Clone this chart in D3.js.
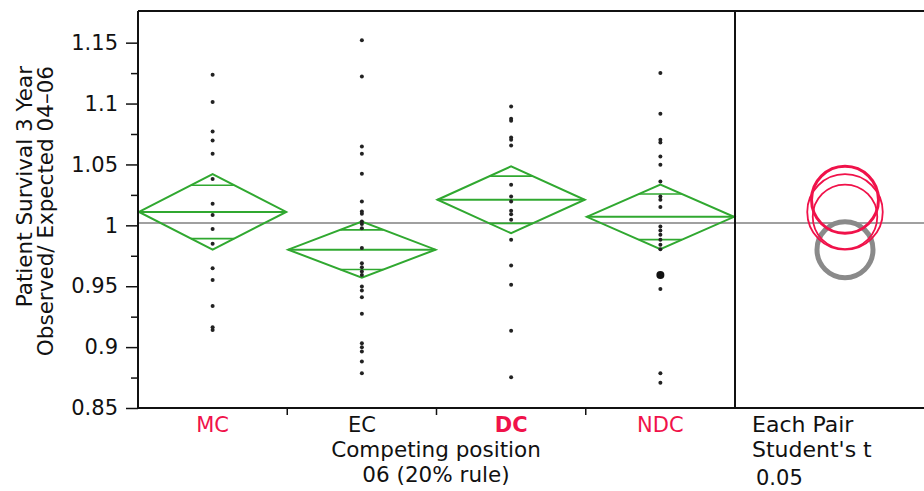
<!DOCTYPE html>
<html>
<head>
<meta charset="utf-8">
<script src="https://cdn.jsdelivr.net/npm/d3@7"></script>
<style>
  body { margin: 0; background: #fff; }
  text { font-family: "DejaVu Sans", sans-serif; }
</style>
</head>
<body>
<svg width="924" height="491"></svg>
<script>
// groups and summary values
var groups = ["MC", "EC", "DC", "NDC"];
var means = [1.011, 0.980, 1.021, 1.007];
var ciHalf = [0.031, 0.023, 0.0275, 0.0265];
var grandMean = 1.002;

// raw points per group
var mcPoints = [1.1237, 1.1013, 1.0771, 1.0697, 1.0588, 1.0380, 1.0177, 1.0084, 0.9969, 0.9848, 0.9648, 0.9552, 0.9338, 0.9163, 0.9140];
var ecPoints = [1.1519, 1.1223, 1.0648, 1.0588, 1.0423, 1.0196, 1.0113, 1.0095, 1.0031, 1.0010, 0.9977, 0.9813, 0.9689, 0.9656, 0.9620, 0.9593, 0.9497, 0.9464, 0.9410, 0.9273, 0.9032, 0.8999, 0.8963, 0.8881, 0.8785];
var dcPoints = [1.0976, 1.0875, 1.0859, 1.0722, 1.0703, 1.0656, 1.0333, 1.0237, 1.0196, 1.0119, 1.0092, 1.0045, 0.9881, 0.9670, 0.9513, 0.9135, 0.8752];
var ndcPoints = [1.1251, 1.0916, 1.0703, 1.0680, 1.0565, 1.0497, 1.0360, 1.0237, 1.0210, 1.0150, 0.9990, 0.9957, 0.9922, 0.9881, 0.9840, 0.9804, 0.9478, 0.8785, 0.8708];
var ndcLarge = [0.9593];

var yTicks = [0.85, 0.9, 0.95, 1, 1.05, 1.1, 1.15];
var yMinor = [0.875, 0.925, 0.975, 1.025, 1.075, 1.125];

var red = "#f0124a";
var green = "#30a830";
var labelColor = {MC: red, EC: "#111", DC: red, NDC: red};

var svg = d3.select("svg");

var plotLeft = 138, plotRight = 924, plotTop = 11, plotBottom = 408, divider = 735;

var x = d3.scaleBand()
    .domain(groups)
    .range([plotLeft, divider])
    .padding(0);

var y = d3.scaleLinear()
    .domain([0.85, 1.176])
    .range([plotBottom, plotTop]);

var allPoints = [mcPoints, ecPoints, dcPoints, ndcPoints];

// grand mean line
svg.append("line")
    .attr("x1", plotLeft).attr("x2", plotRight)
    .attr("y1", y(grandMean)).attr("y2", y(grandMean))
    .attr("stroke", "#808080")
    .attr("stroke-width", 1.5);

// diamonds
groups.forEach(function(g, i) {
    var x0 = x(g) + 1, x1 = x(g) + x.bandwidth() - 1, xc = (x0 + x1) / 2;
    var m = means[i], h = ciHalf[i];
    var pts = [[x0, y(m)], [xc, y(m + h)], [x1, y(m)], [xc, y(m - h)]];
    svg.append("polygon")
        .attr("points", pts.map(function(p) { return p.join(","); }).join(" "))
        .attr("fill", "none")
        .attr("stroke", green)
        .attr("stroke-width", 2);
    svg.append("line")
        .attr("x1", x0).attr("x2", x1)
        .attr("y1", y(m)).attr("y2", y(m))
        .attr("stroke", green).attr("stroke-width", 2);
    // overlap marks
    var d = h / Math.SQRT2;
    var frac = 1 - d / h;
    var half = (x1 - x0) / 2 * frac;
    [m + d, m - d].forEach(function(v) {
        svg.append("line")
            .attr("x1", xc - half).attr("x2", xc + half)
            .attr("y1", y(v)).attr("y2", y(v))
            .attr("stroke", green).attr("stroke-width", 1.7);
    });
});

// points
groups.forEach(function(g, i) {
    svg.selectAll(null)
        .data(allPoints[i])
        .enter()
        .append("circle")
        .attr("cx", x(g) + x.bandwidth() / 2)
        .attr("cy", function(d) { return y(d); })
        .attr("r", 2)
        .attr("fill", "#222");
});
svg.selectAll(null)
    .data(ndcLarge)
    .enter()
    .append("circle")
    .attr("cx", x("NDC") + x.bandwidth() / 2)
    .attr("cy", function(d) { return y(d); })
    .attr("r", 4)
    .attr("fill", "#111");

// comparison circles
var cx = 845;
svg.append("circle")
    .attr("cx", cx).attr("cy", y(means[1]))
    .attr("r", y(0) - y(ciHalf[1]))
    .attr("fill", "none")
    .attr("stroke", "#8a8a8a")
    .attr("stroke-width", 5);
[0, 3, 2].forEach(function(i) {
    svg.append("circle")
        .attr("cx", cx).attr("cy", y(means[i]))
        .attr("r", y(0) - y(ciHalf[i]))
        .attr("fill", "none")
        .attr("stroke", red)
        .attr("stroke-width", groups[i] == "DC" ? 3 : 1.8);
});

// frame
svg.append("line")
    .attr("x1", plotLeft).attr("x2", plotRight)
    .attr("y1", plotTop).attr("y2", plotTop)
    .attr("stroke", "#111").attr("stroke-width", 2);
svg.append("line")
    .attr("x1", divider).attr("x2", divider)
    .attr("y1", plotTop).attr("y2", plotBottom)
    .attr("stroke", "#111").attr("stroke-width", 2);

// y axis
var yAxis = d3.axisLeft(y)
    .tickValues(yTicks)
    .tickSize(12)
    .tickPadding(8)
    .tickFormat(function(d) { return String(+d.toFixed(2)); });

var gy = svg.append("g")
    .attr("transform", "translate(" + plotLeft + ",0)")
    .call(yAxis);
gy.select(".domain").remove();
gy.selectAll(".tick line").attr("stroke", "#111").attr("stroke-width", 1.5);
gy.selectAll(".tick text").attr("font-size", 21).attr("fill", "#111")
    .attr("font-family", "DejaVu Sans");

svg.append("g")
    .attr("transform", "translate(" + plotLeft + ",0)")
    .call(d3.axisLeft(y).tickValues(yMinor).tickSize(7).tickFormat(""))
    .call(function(g) { g.select(".domain").remove(); })
    .selectAll(".tick line").attr("stroke", "#111").attr("stroke-width", 1.5);

svg.append("line")
    .attr("x1", plotLeft).attr("x2", plotLeft)
    .attr("y1", plotTop).attr("y2", plotBottom)
    .attr("stroke", "#111").attr("stroke-width", 2);

// x axis
svg.append("line")
    .attr("x1", plotLeft - 1).attr("x2", plotRight)
    .attr("y1", plotBottom).attr("y2", plotBottom)
    .attr("stroke", "#111").attr("stroke-width", 2);

svg.selectAll(null)
    .data(groups.slice(1))
    .enter()
    .append("line")
    .attr("x1", function(d) { return x(d); })
    .attr("x2", function(d) { return x(d); })
    .attr("y1", plotBottom).attr("y2", plotBottom + 7)
    .attr("stroke", "#111").attr("stroke-width", 1.5);

svg.selectAll(null)
    .data(groups)
    .enter()
    .append("text")
    .attr("x", function(d) { return x(d) + x.bandwidth() / 2; })
    .attr("y", 432)
    .attr("text-anchor", "middle")
    .attr("font-size", 21)
    .attr("font-weight", function(d) { return d == "DC" ? "bold" : "normal"; })
    .attr("fill", function(d) { return labelColor[d]; })
    .text(function(d) { return d; });

svg.append("text")
    .attr("x", 436).attr("y", 457)
    .attr("text-anchor", "middle")
    .attr("font-size", 21.5)
    .attr("fill", "#111")
    .text("Competing position");
svg.append("text")
    .attr("x", 436).attr("y", 482)
    .attr("text-anchor", "middle")
    .attr("font-size", 21.5)
    .attr("fill", "#111")
    .text("06 (20% rule)");

// y title
var yTitle = svg.append("text")
    .attr("transform", "translate(32,66) rotate(-90)")
    .attr("text-anchor", "end")
    .attr("font-size", 21.5)
    .attr("fill", "#111");
yTitle.append("tspan").attr("x", 0).attr("y", 0).text("Patient Survival 3 Year");
yTitle.append("tspan").attr("x", 0).attr("y", 21).text("Observed/ Expected 04\u201306");

// right panel caption
svg.append("text").attr("x", 752).attr("y", 432)
    .attr("font-size", 22).attr("fill", "#111").text("Each Pair");
svg.append("text").attr("x", 752).attr("y", 457)
    .attr("font-size", 22).attr("fill", "#111").text("Student's t");
svg.append("text").attr("x", 756).attr("y", 485)
    .attr("font-size", 21).attr("fill", "#111").text("0.05");
</script>
</body>
</html>
